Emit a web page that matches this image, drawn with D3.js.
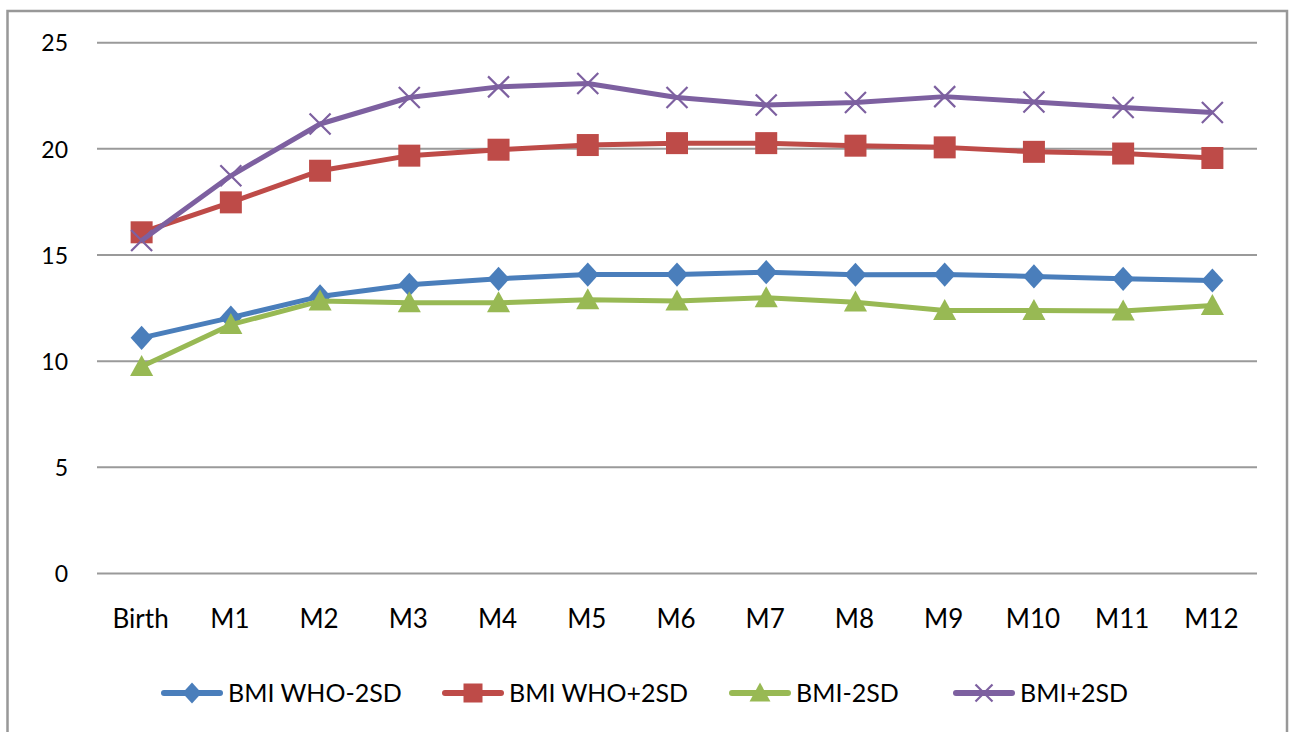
<!DOCTYPE html>
<html>
<head>
<meta charset="utf-8">
<script src="https://cdn.jsdelivr.net/npm/d3@7"></script>
<style>
  html, body { margin: 0; padding: 0; background: #fff; }
  svg { display: block; }
  text { font-family: Lato, "Open Sans", sans-serif; fill: #000; }
</style>
</head>
<body>
<svg id="chart" width="1290" height="732"></svg>
<script>
// Age points (x categories)
const categories = ["Birth", "M1", "M2", "M3", "M4", "M5", "M6", "M7", "M8", "M9", "M10", "M11", "M12"];

// BMI series
const whoMinus2SD = [11.1, 12.05, 13.05, 13.6, 13.88, 14.08, 14.08, 14.19, 14.07, 14.08, 13.99, 13.88, 13.8];
const whoPlus2SD  = [16.07, 17.48, 18.97, 19.68, 19.96, 20.18, 20.27, 20.27, 20.15, 20.07, 19.86, 19.78, 19.57];
const bmiMinus2SD = [9.75, 11.72, 12.83, 12.75, 12.75, 12.89, 12.83, 12.99, 12.78, 12.39, 12.39, 12.36, 12.62];
const bmiPlus2SD  = [15.68, 18.73, 21.17, 22.42, 22.92, 23.08, 22.42, 22.07, 22.18, 22.46, 22.21, 21.95, 21.71];

const yTicks = [0, 5, 10, 15, 20, 25];

const series = [
  { name: "BMI WHO-2SD", values: whoMinus2SD, color: "#4A7EBB", marker: "diamond" },
  { name: "BMI WHO+2SD", values: whoPlus2SD,  color: "#BE4B48", marker: "square" },
  { name: "BMI-2SD",     values: bmiMinus2SD, color: "#98B954", marker: "triangle" },
  { name: "BMI+2SD",     values: bmiPlus2SD,  color: "#7D60A0", marker: "cross" }
];

const svg = d3.select("#chart");

// outer frame
svg.append("rect")
  .attr("x", 7.5).attr("y", 11)
  .attr("width", 1279.5).attr("height", 740)
  .attr("fill", "#fff")
  .attr("stroke", "#989898")
  .attr("stroke-width", 2.5);

const plot = { left: 97, right: 1257, top: 42.7, bottom: 573.5 };

const x = d3.scaleBand()
  .domain(categories)
  .range([plot.left, plot.right])
  .paddingInner(0).paddingOuter(0);

const y = d3.scaleLinear()
  .domain([0, 25])
  .range([plot.bottom, plot.top]);

// horizontal gridlines
svg.append("g")
  .selectAll("line")
  .data(yTicks)
  .join("line")
  .attr("x1", plot.left).attr("x2", plot.right)
  .attr("y1", d => y(d)).attr("y2", d => y(d))
  .attr("stroke", "#9a9a9a")
  .attr("stroke-width", 2);

// y axis labels
const yAxis = d3.axisLeft(y).tickValues(yTicks).tickSize(0).tickPadding(0);
const yg = svg.append("g")
  .attr("transform", `translate(${plot.left - 29},0)`)
  .call(yAxis);
yg.select(".domain").remove();
yg.selectAll("text")
  .style("font-family", "Lato, 'Open Sans', sans-serif")
  .style("font-size", "23px")
  .attr("fill", "#000")
  .attr("dy", "0.36em");

// x axis labels
const xAxis = d3.axisBottom(x).tickSize(0).tickPadding(0);
const xg = svg.append("g")
  .attr("transform", `translate(-1,628)`)
  .call(xAxis);
xg.select(".domain").remove();
xg.selectAll("text")
  .style("font-family", "Lato, 'Open Sans', sans-serif")
  .style("font-size", "26px")
  .attr("fill", "#000")
  .attr("dy", "0")
  .attr("y", 0);

const cx = c => x(c) + x.bandwidth() / 2;

// marker drawing
function drawMarker(g, type, color, px, py, s) {
  if (type === "diamond") {
    g.append("path")
      .attr("d", `M${px},${py - s * 0.55}L${px + s * 0.5},${py}L${px},${py + s * 0.55}L${px - s * 0.5},${py}Z`)
      .attr("fill", color);
  } else if (type === "square") {
    g.append("rect")
      .attr("x", px - s / 2).attr("y", py - s / 2)
      .attr("width", s).attr("height", s)
      .attr("fill", color);
  } else if (type === "triangle") {
    g.append("path")
      .attr("d", `M${px},${py - s * 0.55}L${px + s * 0.55},${py + s * 0.45}L${px - s * 0.55},${py + s * 0.45}Z`)
      .attr("fill", color);
  } else if (type === "cross") {
    const h = s * 0.5;
    g.append("path")
      .attr("d", `M${px - h},${py - h}L${px + h},${py + h}M${px - h},${py + h}L${px + h},${py - h}`)
      .attr("stroke", color)
      .attr("stroke-width", 2.2)
      .attr("fill", "none");
  }
}

const markerSize = { diamond: 22, square: 22, triangle: 21, cross: 21 };

const line = d3.line()
  .x((d, i) => cx(categories[i]))
  .y(d => y(d));

series.forEach(s => {
  const g = svg.append("g");
  g.append("path")
    .attr("d", line(s.values))
    .attr("fill", "none")
    .attr("stroke", s.color)
    .attr("stroke-width", 5)
    .attr("stroke-linejoin", "round");
  s.values.forEach((v, i) => {
    drawMarker(g, s.marker, s.color, cx(categories[i]), y(v), markerSize[s.marker]);
  });
});

// legend
const legendX = [162, 443, 730, 954];
const legendY = 693;
series.forEach((s, i) => {
  const lx = legendX[i];
  const g = svg.append("g");
  g.append("line")
    .attr("x1", lx + 2).attr("x2", lx + 58)
    .attr("y1", legendY).attr("y2", legendY)
    .attr("stroke", s.color)
    .attr("stroke-width", 6)
    .attr("stroke-linecap", "round");
  drawMarker(g, s.marker, s.color, lx + 30, legendY,
    s.marker === "cross" ? 17 : s.marker === "triangle" ? 19 : 19);
  g.append("text")
    .attr("x", lx + 66)
    .attr("y", legendY)
    .attr("dy", "0.36em")
    .style("font-size", "25px")
    .text(s.name);
});
</script>
</body>
</html>
